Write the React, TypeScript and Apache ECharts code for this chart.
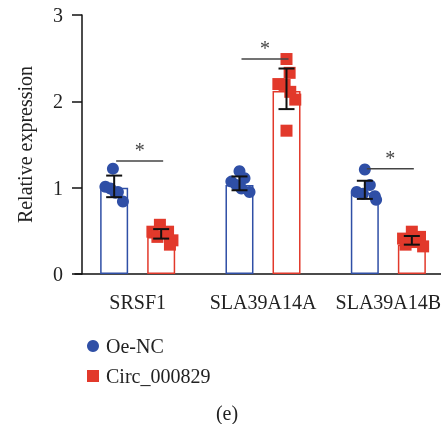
import React, { useEffect, useRef } from "react";
import * as echarts from "echarts";

const categories = ["SRSF1", "SLA39A14A", "SLA39A14B"];
const ncBar = [1.0, 1.03, 0.94];
const circBar = [0.43, 2.12, 0.34];
const ncMean = [1.015, 1.05, 0.975];
const ncSd = [0.125, 0.08, 0.105];
const circMean = [0.465, 2.145, 0.39];
const circSd = [0.055, 0.235, 0.05];
// [horizontal jitter (category units), value]
const ncPoints = [
  [[-0.01, 1.22], [-0.07, 1.01], [-0.03, 0.99], [0.03, 0.95], [0.07, 0.84], [0.01, 0.94]],
  [[0, 1.19], [-0.065, 1.07], [-0.025, 1.03], [0.04, 1.11], [0.08, 0.95], [0.015, 0.99]],
  [[0, 1.21], [-0.065, 0.95], [0.04, 1.03], [-0.015, 0.93], [0.08, 0.9], [0.09, 0.86]],
];
const circPoints = [
  [[-0.01, 0.57], [-0.07, 0.49], [0.055, 0.49], [-0.03, 0.43], [0.09, 0.39], [0.07, 0.34]],
  [[0, 2.49], [0.025, 2.33], [-0.065, 2.2], [-0.015, 2.19], [0.03, 2.11], [0.07, 2.02], [0, 1.66]],
  [[0, 0.49], [-0.07, 0.41], [0.065, 0.43], [-0.05, 0.34], [0.09, 0.32], [0.025, 0.37]],
];
const sigY = [1.31, 2.49, 1.22];

const BLUE = "#2f4fa6";
const RED = "#e2392b";
const FONT = "Liberation Serif";
const GROUP_OFF = 0.1875;

export default function App() {
  const ref = useRef<HTMLDivElement>(null);
  useEffect(() => {
    if (!ref.current) return;
    const chart = echarts.init(ref.current, null, { renderer: "svg" });
    const ncScatter = ncPoints.flatMap((pts, i) =>
      pts.map(([o, v]) => [i + 0.5 - GROUP_OFF + o, v])
    );
    const circScatter = circPoints.flatMap((pts, i) =>
      pts.map(([o, v]) => [i + 0.5 + GROUP_OFF + o, v])
    );
    const errData = [
      ...ncMean.map((m, i) => [i + 0.5 - GROUP_OFF, m, ncSd[i]]),
      ...circMean.map((m, i) => [i + 0.5 + GROUP_OFF, m, circSd[i]]),
    ];
    const sigData = sigY.map((y, i) => [i + 0.5 - GROUP_OFF, i + 0.5 + GROUP_OFF, y]);

    chart.setOption({
      animation: false,
      grid: { left: 75, top: 15, width: 376, height: 259, outerBoundsMode: "none", containLabel: false },
      xAxis: [
        {
          type: "category",
          data: categories,
          axisLine: { lineStyle: { color: "#111", width: 1.5 } },
          axisTick: { alignWithLabel: true, length: 10, lineStyle: { color: "#111", width: 1.5 } },
          axisLabel: { interval: 0, hideOverlap: false, fontFamily: FONT, fontSize: 20, color: "#222", margin: 18 },
        },
        { type: "value", min: 0, max: 3, show: false },
      ],
      yAxis: {
        type: "value",
        min: 0,
        max: 3,
        interval: 1,
        offset: -7,
        name: "Relative expression",
        nameLocation: "middle",
        nameGap: 47,
        nameTextStyle: { fontFamily: FONT, fontSize: 20, color: "#222" },
        axisLine: { show: true, lineStyle: { color: "#111", width: 1.5 } },
        axisTick: { show: true, length: 10, lineStyle: { color: "#111", width: 1.5 } },
        axisLabel: { fontFamily: FONT, fontSize: 20, color: "#222", margin: 19 },
        splitLine: { show: false },
      },
      legend: {
        orient: "vertical",
        left: 82,
        top: 331,
        itemWidth: 12,
        itemHeight: 12,
        itemGap: 10,
        textStyle: { fontFamily: FONT, fontSize: 20, color: "#222", padding: [0, 0, 0, 2] },
        data: [
          { name: "Oe-NC", icon: "circle" },
          { name: "Circ_000829", icon: "rect" },
        ],
      },
      graphic: [
        {
          type: "text",
          x: 227,
          y: 413,
          style: {
            text: "(e)",
            fontFamily: FONT,
            fontSize: 20,
            fill: "#222",
            textAlign: "center",
            textVerticalAlign: "middle",
          },
        },
      ],
      series: [
        {
          type: "bar",
          name: "Oe-NC mean",
          data: ncBar,
          barWidth: 28,
          barGap: "68%",
          itemStyle: { color: "#fff", borderColor: BLUE, borderWidth: 1.5 },
          z: 1,
        },
        {
          type: "bar",
          name: "Circ_000829 mean",
          data: circBar,
          barWidth: 28,
          barGap: "68%",
          itemStyle: { color: "#fff", borderColor: RED, borderWidth: 1.5 },
          z: 1,
        },
        {
          type: "scatter",
          name: "Oe-NC",
          xAxisIndex: 1,
          data: ncScatter,
          symbol: "circle",
          symbolSize: 12,
          itemStyle: { color: BLUE, opacity: 1 },
          z: 2,
        },
        {
          type: "scatter",
          name: "Circ_000829",
          xAxisIndex: 1,
          data: circScatter,
          symbol: "rect",
          symbolSize: 12,
          itemStyle: { color: RED, opacity: 1 },
          z: 2,
        },
        {
          type: "custom",
          name: "err",
          xAxisIndex: 1,
          data: errData,
          z: 3,
          renderItem: (params: any, api: any) => {
            const x = api.value(0);
            const m = api.value(1);
            const s = api.value(2);
            const top = api.coord([x, m + s]);
            const bot = api.coord([x, m - s]);
            const st = { stroke: "#111", lineWidth: 2 };
            return {
              type: "group",
              children: [
                { type: "line", shape: { x1: top[0], y1: top[1], x2: bot[0], y2: bot[1] }, style: st },
                { type: "line", shape: { x1: top[0] - 8, y1: top[1], x2: top[0] + 8, y2: top[1] }, style: st },
                { type: "line", shape: { x1: bot[0] - 8, y1: bot[1], x2: bot[0] + 8, y2: bot[1] }, style: st },
              ],
            };
          },
        },
        {
          type: "custom",
          name: "sig",
          xAxisIndex: 1,
          data: sigData,
          z: 4,
          renderItem: (params: any, api: any) => {
            const a = api.coord([api.value(0), api.value(2)]);
            const b = api.coord([api.value(1), api.value(2)]);
            return {
              type: "group",
              children: [
                {
                  type: "line",
                  shape: { x1: a[0] + 2, y1: a[1], x2: b[0] + 2, y2: b[1] },
                  style: { stroke: "#444", lineWidth: 1.5 },
                },
                {
                  type: "text",
                  x: (a[0] + b[0]) / 2 + 2,
                  y: a[1] - 1,
                  style: {
                    text: "*",
                    fontFamily: FONT,
                    fontSize: 20,
                    fill: "#444",
                    textAlign: "center",
                    textVerticalAlign: "bottom",
                  },
                },
              ],
            };
          },
        },
      ],
    });
    return () => chart.dispose();
  }, []);
  return (
    <div
      ref={ref}
      style={{ position: "fixed", left: 0, top: 0, width: 441, height: 424 }}
    />
  );
}
